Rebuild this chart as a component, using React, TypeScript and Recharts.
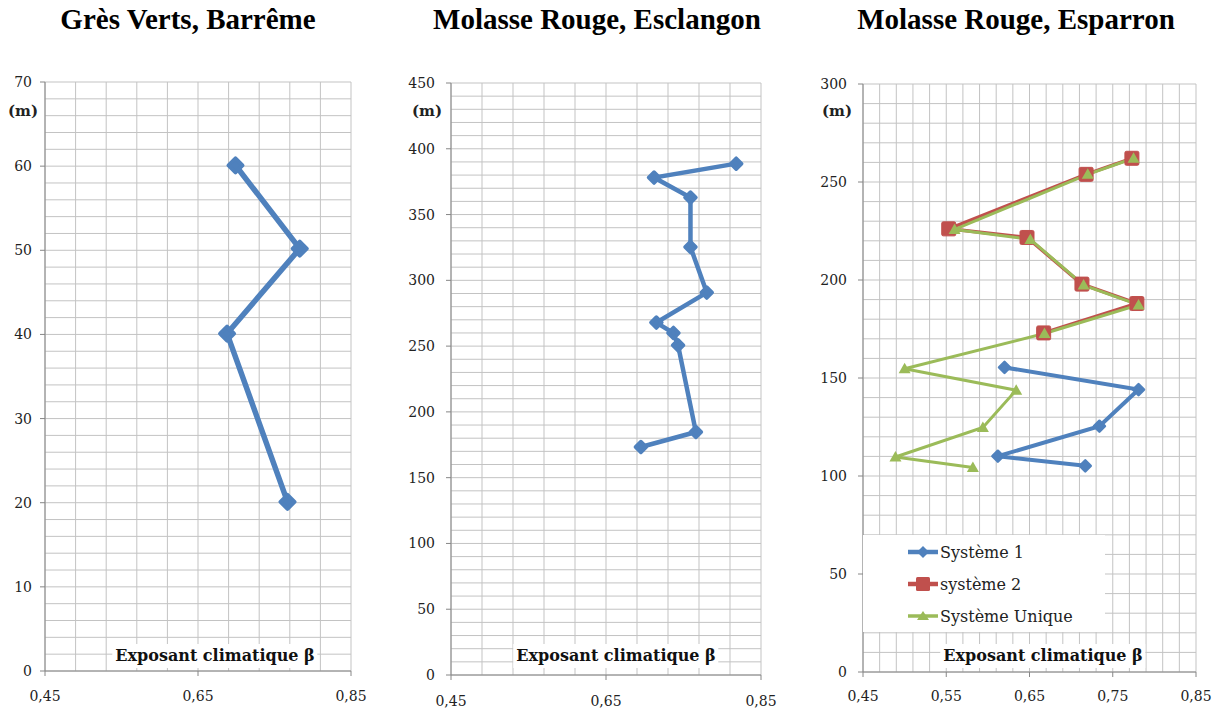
import React from 'react';
import { LineChart, Line, XAxis, YAxis, CartesianGrid, Legend } from 'recharts';

// Grès Verts, Barrême
const barremeBeta = [0.699, 0.783, 0.688, 0.767];
const barremeAlt = [60.1, 50.2, 40.1, 20.1];

// Molasse Rouge, Esclangon
const esclangonBeta = [0.818, 0.712, 0.759, 0.759, 0.78, 0.715, 0.737, 0.743, 0.766, 0.695];
const esclangonAlt = [388.7, 378.1, 362.9, 325.3, 290.7, 267.9, 260.0, 250.6, 184.7, 173.3];

// Molasse Rouge, Esparron
const sys1Beta = [0.62, 0.781, 0.734, 0.612, 0.717];
const sys1Alt = [155.4, 144.1, 125.4, 110.1, 105.2];
const sys2Beta = [0.773, 0.718, 0.553, 0.647, 0.713, 0.779, 0.667];
const sys2Alt = [262.1, 253.9, 226.1, 221.7, 197.9, 188.0, 173.0];
const uniqueBeta = [0.775, 0.72, 0.56, 0.651, 0.715, 0.781, 0.668, 0.5, 0.634, 0.594, 0.489, 0.582];
const uniqueAlt = [262.1, 253.9, 225.8, 220.7, 197.4, 187.3, 172.7, 154.7, 143.8, 124.8, 109.7, 104.3];

const titles = ['Grès Verts, Barrême', 'Molasse Rouge, Esclangon', 'Molasse Rouge, Esparron'];
const seriesNames = ['Système 1', 'système 2', 'Système Unique'];
const xTitle = 'Exposant climatique β';
const yUnit = '(m)';

const BLUE = '#4f81bd';
const RED = '#c0504d';
const GREEN = '#9bbb59';
const GRID = '#c3c3c3';
const AXIS = '#868686';
const SERIF = '"DejaVu Serif", serif';
const TICK = 5;

type Pt = { x: number; y: number };
const zip = (xs: number[], ys: number[]): Pt[] => xs.map((x, i) => ({ x, y: ys[i] }));

function steps(min: number, max: number, step: number) {
  const n = Math.round((max - min) / step);
  return Array.from({ length: n + 1 }, (_, i) => +(min + i * step).toFixed(4));
}

const isMajor = (v: number, min: number, major: number) => {
  const k = (v - min) / major;
  return Math.abs(k - Math.round(k)) < 1e-6;
};

function yTick(min: number, major: number, margin: number) {
  return (p: any) => {
    const v = p.payload.value;
    if (!isMajor(v, min, major)) return <g />;
    const x0 = p.x + margin;
    return (
      <g>
        <line x1={x0} x2={x0 + TICK} y1={p.y} y2={p.y} stroke={AXIS} />
        <text x={p.x} y={p.y} dy="0.36em" textAnchor="end" fontFamily={SERIF} fontSize={14} fill="#222">
          {v}
        </text>
      </g>
    );
  };
}

function xTick(min: number, major: number, margin: number) {
  return (p: any) => {
    const v = p.payload.value;
    if (!isMajor(v, min, major)) return <g />;
    const y0 = p.y - margin;
    return (
      <g>
        <line x1={p.x} x2={p.x} y1={y0 - TICK} y2={y0} stroke={AXIS} />
        <text x={p.x} y={p.y} dy="0.75em" textAnchor="middle" fontFamily={SERIF} fontSize={14} fill="#222">
          {v.toFixed(2).replace('.', ',')}
        </text>
      </g>
    );
  };
}

function diamond(color: string, r: number, sw: number) {
  return (p: any) => {
    const { cx, cy, index } = p;
    return (
      <path
        key={index}
        d={`M${cx},${cy - r}L${cx + r},${cy}L${cx},${cy + r}L${cx - r},${cy}Z`}
        fill={color}
        stroke={color}
        strokeWidth={sw}
        strokeLinejoin="round"
      />
    );
  };
}

function square(color: string, r: number) {
  return (p: any) => (
    <rect key={p.index} x={p.cx - r} y={p.cy - r} width={2 * r} height={2 * r} rx={1.5} fill={color} stroke={color} strokeWidth={1} />
  );
}

function triangle(color: string, r: number) {
  return (p: any) => {
    const { cx, cy, index } = p;
    return <path key={index} d={`M${cx},${cy - r}L${cx + r},${cy + r * 0.75}L${cx - r},${cy + r * 0.75}Z`} fill={color} />;
  };
}

interface PanelProps {
  left: number;
  width: number;
  margin: { top: number; right: number; bottom: number };
  yWidth: number;
  yMax: number;
  yMajor: number;
  yMinor: number;
  xMajor: number;
  xMinor: number;
  yTickMargin: number;
  xTickMargin: number;
  title: string;
  titleX: number;
  unitX: number;
  labelX: number;
  children: React.ReactNode;
}

function Panel(props: PanelProps) {
  const { left, width, margin, yWidth, yMax, yMajor, yMinor, xMajor, xMinor, yTickMargin, xTickMargin } = props;
  return (
    <div style={{ position: 'absolute', left, top: 0, width, height: 709 }}>
      <LineChart width={width} height={709} margin={{ ...margin, left: 0 }}>
        <CartesianGrid stroke={GRID} strokeWidth={1} />
        <XAxis
          type="number"
          dataKey="x"
          domain={[0.45, 0.85]}
          ticks={steps(0.45, 0.85, xMinor)}
          interval={0}
          allowDataOverflow
          height={30}
          tickSize={TICK}
          tickMargin={xTickMargin}
          tickLine={false}
          axisLine={{ stroke: AXIS }}
          tick={xTick(0.45, xMajor, xTickMargin)}
        />
        <YAxis
          type="number"
          dataKey="y"
          domain={[0, yMax]}
          ticks={steps(0, yMax, yMinor)}
          interval={0}
          allowDataOverflow
          width={yWidth}
          tickSize={TICK}
          tickMargin={yTickMargin}
          tickLine={false}
          axisLine={{ stroke: AXIS }}
          tick={yTick(0, yMajor, yTickMargin)}
        />
        {props.children}
      </LineChart>
      <div
        style={{
          position: 'absolute',
          left: props.titleX - left,
          top: 3,
          transform: 'translateX(-50%)',
          whiteSpace: 'nowrap',
          fontFamily: '"Liberation Serif", serif',
          fontWeight: 700,
          fontSize: 29,
        }}
      >
        {props.title}
      </div>
      <div
        style={{
          position: 'absolute',
          left: props.unitX - left,
          top: 102,
          transform: 'translateX(-50%)',
          fontFamily: SERIF,
          fontWeight: 700,
          fontSize: 15,
          color: '#222',
        }}
      >
        {yUnit}
      </div>
      <div
        style={{
          position: 'absolute',
          left: props.labelX - left,
          top: 644,
          transform: 'translateX(-50%)',
          whiteSpace: 'nowrap',
          background: '#fff',
          padding: '0 3px',
          fontFamily: SERIF,
          fontWeight: 700,
          fontSize: 16,
          lineHeight: '24px',
          color: '#111',
        }}
      >
        {xTitle}
      </div>
    </div>
  );
}

const legendItems = [
  { name: seriesNames[0], color: BLUE, shape: 'diamond' },
  { name: seriesNames[1], color: RED, shape: 'square' },
  { name: seriesNames[2], color: GREEN, shape: 'triangle' },
];

function LegendBox() {
  return (
    <div style={{ background: '#fff', width: 242, height: 97, paddingTop: 1, boxSizing: 'border-box' }}>
      {legendItems.map((it) => (
        <div key={it.name} style={{ display: 'flex', alignItems: 'center', height: 32, paddingLeft: 45 }}>
          <svg width={30} height={16} style={{ marginRight: 2 }}>
            <line x1={0} x2={30} y1={8} y2={8} stroke={it.color} strokeWidth={it.shape === 'triangle' ? 3.5 : 4.5} />
            {it.shape === 'diamond' && <path d="M15,2L21,8L15,14L9,8Z" fill={it.color} />}
            {it.shape === 'square' && <rect x={8} y={1} width={14} height={14} rx={1.5} fill={it.color} />}
            {it.shape === 'triangle' && <path d="M15,3L21,12L9,12Z" fill={it.color} />}
          </svg>
          <span style={{ fontFamily: SERIF, fontSize: 16, color: '#222' }}>{it.name}</span>
        </div>
      ))}
    </div>
  );
}

export default function App() {
  return (
    <div style={{ position: 'absolute', left: 0, top: 0, width: 1218, height: 709, background: '#fff', overflow: 'hidden' }}>
      <Panel
        left={0}
        width={380}
        margin={{ top: 82, right: 29, bottom: 8 }}
        yWidth={45}
        yMax={70}
        yMajor={10}
        yMinor={2}
        xMajor={0.2}
        xMinor={0.04}
        yTickMargin={8}
        xTickMargin={14}
        title={titles[0]}
        titleX={188}
        unitX={23}
        labelX={215}
      >
        <Line
          data={zip(barremeBeta, barremeAlt)}
          dataKey="y"
          stroke={BLUE}
          strokeWidth={5.5}
          dot={diamond(BLUE, 7, 4)}
          activeDot={false}
          isAnimationActive={false}
        />
      </Panel>
      <Panel
        left={380}
        width={410}
        margin={{ top: 83, right: 29, bottom: 4 }}
        yWidth={71}
        yMax={450}
        yMajor={50}
        yMinor={10}
        xMajor={0.2}
        xMinor={0.04}
        yTickMargin={11}
        xTickMargin={15}
        title={titles[1]}
        titleX={597}
        unitX={427}
        labelX={616}
      >
        <Line
          data={zip(esclangonBeta, esclangonAlt)}
          dataKey="y"
          stroke={BLUE}
          strokeWidth={4.5}
          dot={diamond(BLUE, 5.5, 3.5)}
          activeDot={false}
          isAnimationActive={false}
        />
      </Panel>
      <Panel
        left={790}
        width={428}
        margin={{ top: 84, right: 22, bottom: 7 }}
        yWidth={73}
        yMax={300}
        yMajor={50}
        yMinor={10}
        xMajor={0.1}
        xMinor={0.02}
        yTickMargin={11}
        xTickMargin={13}
        title={titles[2]}
        titleX={1016}
        unitX={837}
        labelX={1043}
      >
        <Line
          name={seriesNames[0]}
          data={zip(sys1Beta, sys1Alt)}
          dataKey="y"
          stroke={BLUE}
          strokeWidth={4}
          dot={diamond(BLUE, 5.5, 2.5)}
          activeDot={false}
          isAnimationActive={false}
        />
        <Line
          name={seriesNames[1]}
          data={zip(sys2Beta, sys2Alt)}
          dataKey="y"
          stroke={RED}
          strokeWidth={3.5}
          dot={square(RED, 7)}
          activeDot={false}
          isAnimationActive={false}
        />
        <Line
          name={seriesNames[2]}
          data={zip(uniqueBeta, uniqueAlt)}
          dataKey="y"
          stroke={GREEN}
          strokeWidth={3}
          dot={triangle(GREEN, 6)}
          activeDot={false}
          isAnimationActive={false}
        />
        <Legend
          layout="vertical"
          align="center"
          verticalAlign="middle"
          wrapperStyle={{ left: 73, top: 535, width: 242, height: 97 }}
          content={() => <LegendBox />}
        />
      </Panel>
    </div>
  );
}
